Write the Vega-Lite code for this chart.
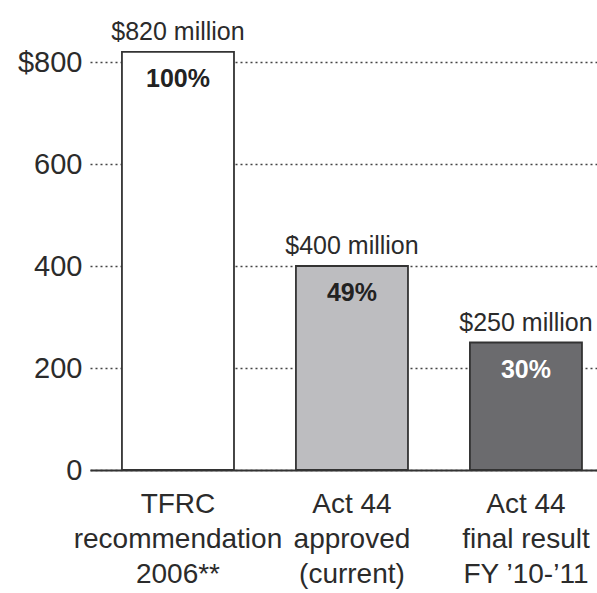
{
  "$schema": "https://vega.github.io/schema/vega-lite/v6.json",
  "autosize": {"type": "none"},
  "padding": {"left": 90, "top": 62, "right": 0, "bottom": 123},
  "width": 507,
  "height": 408,
  "background": "white",
  "config": {
    "view": {"stroke": null},
    "font": "Liberation Sans"
  },
  "data": {
    "values": [
      {"cat": "TFRC|recommendation|2006**", "value": 820, "valueLabel": "$820 million", "pct": "100%"},
      {"cat": "Act 44|approved|(current)", "value": 400, "valueLabel": "$400 million", "pct": "49%"},
      {"cat": "Act 44|final result|FY \u201910-\u201911", "value": 250, "valueLabel": "$250 million", "pct": "30%"}
    ]
  },
  "encoding": {
    "x": {
      "field": "cat",
      "type": "nominal",
      "sort": null,
      "scale": {"paddingInner": 0.356, "paddingOuter": 0.135, "align": 0.68},
      "axis": {
        "title": null,
        "labelAngle": 0,
        "labelExpr": "split(datum.label, '|')",
        "labelFontSize": 28,
        "labelLineHeight": 35,
        "labelLimit": 0,
        "labelColor": "#2b2b2b",
        "labelPadding": 20,
        "ticks": false,
        "domainColor": "#333333",
        "domainWidth": 2,
        "zindex": 1
      }
    },
    "y": {
      "field": "value",
      "type": "quantitative",
      "scale": {"domain": [0, 800], "nice": false},
      "axis": {
        "title": null,
        "values": [0, 200, 400, 600, 800],
        "labelExpr": "datum.value == 800 ? '$800' : datum.label",
        "labelFontSize": 29,
        "labelColor": "#2b2b2b",
        "labelPadding": 8,
        "ticks": false,
        "domain": false,
        "grid": true,
        "gridColor": "#444444",
        "gridDash": [2, 3],
        "gridWidth": 1.5
      }
    }
  },
  "layer": [
    {
      "mark": {"type": "bar", "stroke": "#333333", "strokeWidth": 1.8},
      "encoding": {
        "fill": {
          "field": "cat",
          "type": "nominal",
          "sort": null,
          "scale": {"range": ["#ffffff", "#bdbdc0", "#6b6b6e"]},
          "legend": null
        }
      }
    },
    {
      "mark": {"type": "text", "baseline": "alphabetic", "dy": -12, "fontSize": 25, "color": "#2b2b2b"},
      "encoding": {"text": {"field": "valueLabel"}}
    },
    {
      "mark": {"type": "text", "baseline": "middle", "dy": 27, "fontSize": 25, "fontWeight": "bold"},
      "encoding": {
        "text": {"field": "pct"},
        "color": {
          "field": "cat",
          "type": "nominal",
          "sort": null,
          "scale": {"range": ["#222222", "#222222", "#ffffff"]},
          "legend": null
        }
      }
    }
  ],
  "resolve": {"scale": {"color": "independent"}}
}
